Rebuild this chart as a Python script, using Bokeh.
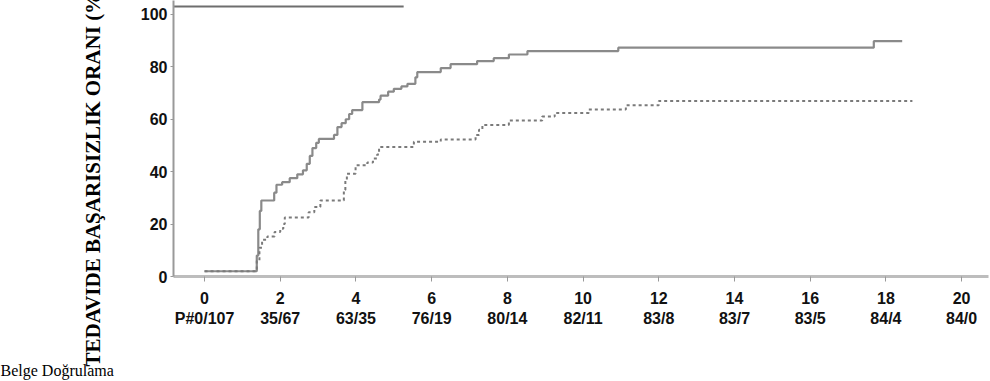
from bokeh.plotting import figure
from bokeh.models import Range1d, FixedTicker, Title
from bokeh.embed import file_html
from bokeh.resources import INLINE

# ---- data ----
group1_months = [0, 1.38, 1.42, 1.46, 1.50, 1.84, 1.90, 2.05, 2.25, 2.45, 2.60, 2.70,
                 2.78, 2.85, 2.95, 3.02, 3.42, 3.51, 3.62, 3.73, 3.82, 3.90, 4.17,
                 4.61, 4.65, 4.85, 5.00, 5.20, 5.36, 5.57, 5.62, 6.24, 6.50, 7.20,
                 7.64, 8.04, 8.53, 10.93, 17.68, 18.43]
group1_pct = [2, 8, 18, 25, 29, 32, 35, 36, 37.5, 39, 40.5, 43,
              46, 49, 51, 52.5, 54, 57, 58.5, 60, 62, 63.5, 66.5,
              67.5, 69, 70.5, 71.6, 72.5, 73.5, 76, 78, 79.5, 81, 82.2,
              83.3, 84.7, 86, 87.3, 89.8, 89.8]

group2_months = [0, 1.38, 1.45, 1.52, 1.66, 1.85, 2.00, 2.08, 2.12, 2.75, 2.90, 3.06,
                 3.68, 3.72, 3.76, 3.99, 4.30, 4.45, 4.56, 4.61, 5.53, 6.24, 7.16,
                 7.25, 7.34, 8.04, 8.92, 9.25, 10.15, 11.13, 12.00, 18.70]
group2_pct = [2, 6, 11, 14, 15.3, 17, 18.2, 20, 22.5, 24.5, 26.5, 29,
              33, 36.6, 39.2, 42.4, 43.5, 45, 46.5, 49.4, 51.4, 52.3, 54,
              56, 57.8, 59.5, 61, 62.4, 63.7, 65.3, 67, 67]

x_ticks = [0, 2, 4, 6, 8, 10, 12, 14, 16, 18, 20]
at_risk = ["P#0/107", "35/67", "63/35", "76/19", "80/14", "82/11",
           "83/8", "83/7", "83/5", "84/4", "84/0"]
y_ticks = [0, 20, 40, 60, 80, 100]

top_rule_months = [-0.82, 5.26]
top_rule_pct = [103, 103]

y_title = "TEDAVIDE BAŞARISIZLIK ORANI (%)"
footer_text = "Belge Doğrulama"

# ---- main chart ----
p = figure(width=990, height=381, output_backend="svg", toolbar_location=None,
           x_range=Range1d(-0.82, 20.71), y_range=Range1d(0, 105.3),
           min_border_left=173, min_border_right=2, min_border_top=0,
           min_border_bottom=105)
p.outline_line_color = None
p.grid.visible = False

p.step(group1_months, group1_pct, mode="after", line_color="#8a8a8a", line_width=2.2)
p.step(group2_months, group2_pct, mode="after", line_color="#7a7a7a", line_width=2,
       line_dash="3 3")
p.line(top_rule_months, top_rule_pct, line_color="#6e6e6e", line_width=2)

xa = p.xaxis[0]
xa.ticker = FixedTicker(ticks=x_ticks)
xa.major_label_overrides = {t: f"{t}\n{r}" for t, r in zip(x_ticks, at_risk)}
xa.axis_line_color = "#bdbdbd"
xa.axis_line_width = 3
xa.major_tick_line_color = "#999999"
xa.major_tick_out = 5
xa.major_tick_in = 0
xa.minor_tick_line_color = None
xa.major_label_text_font = "Liberation Sans"
xa.major_label_text_font_style = "bold"
xa.major_label_text_font_size = "16px"
xa.major_label_text_color = "#111111"
xa.major_label_text_line_height = 1.2
xa.major_label_standoff = 8

ya = p.yaxis[0]
ya.ticker = FixedTicker(ticks=y_ticks)
ya.axis_line_color = "#999999"
ya.axis_line_width = 2
ya.major_tick_line_color = "#999999"
ya.major_tick_out = 3
ya.major_tick_in = 0
ya.minor_tick_line_color = None
ya.major_label_text_font = "Liberation Sans"
ya.major_label_text_font_style = "bold"
ya.major_label_text_font_size = "16px"
ya.major_label_text_color = "#111111"
ya.major_label_standoff = 3

title = Title(text=y_title, align="left", offset=-90, vertical_align="top",
              standoff=62, text_font="Liberation Serif", text_font_style="bold",
              text_font_size="21px", text_color="black")
p.add_layout(title, "left")

# empty spacer between the at-risk labels and the footer line
spacer = Title(text=" ", standoff=11, text_font="Liberation Serif",
               text_font_size="16px", text_color="white")
p.add_layout(spacer, "below")

footer = Title(text=footer_text, align="left", offset=-173, vertical_align="bottom",
               standoff=0, text_font="Liberation Serif", text_font_style="normal",
               text_font_size="16px", text_color="black")
p.add_layout(footer, "below")

open("out.html", "w").write(file_html(p, INLINE))
